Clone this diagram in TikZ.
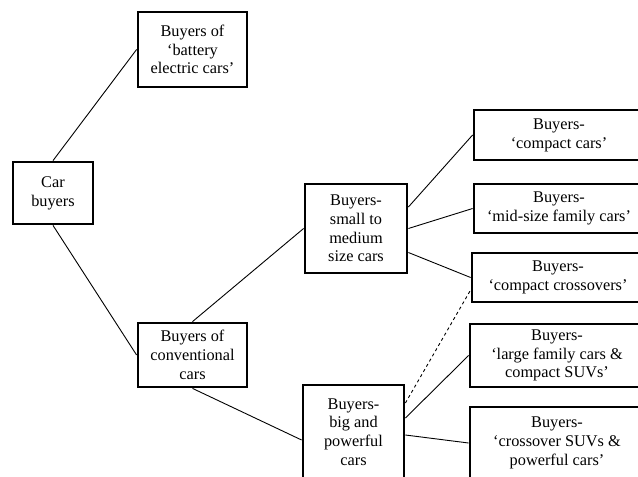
\documentclass[tikz,border=0pt]{standalone}
\usepackage{fontspec}
\setmainfont{Liberation Serif}
\usepackage{tikz}

\tikzset{
  box/.style={draw, line width=2.8pt, align=center, inner sep=0pt,
    font=\fontsize{16.3}{18.8}\selectfont},
  link/.style={line width=0.9pt}
}

\begin{document}
\begin{tikzpicture}[x=1pt,y=-1pt]
\path[use as bounding box, clip] (0,0) rectangle (638,477);

\node[box, minimum width=80pt, minimum height=62pt] (buyers) at (53,193) {Car\\buyers};
\node[box, minimum width=109pt, minimum height=75pt] (bev) at (192.5,49.5) {Buyers of\\`battery\\electric cars'};
\node[box, minimum width=109pt, minimum height=64pt] (conv) at (192.5,355) {Buyers of\\conventional\\cars};
\node[box, minimum width=102pt, minimum height=89pt] (small) at (356,228.5) {Buyers-\\small to\\medium\\size cars};
\node[box, minimum width=101pt, minimum height=94pt] (big) at (353.5,432) {Buyers-\\big and\\powerful\\cars};

\node[box, minimum width=170pt, minimum height=50pt] (compact) at (559,135) {Buyers-\\`compact cars'};
\node[box, minimum width=170pt, minimum height=49pt] (midsize) at (559,208.5) {Buyers-\\`mid-size family cars'};
\node[box, minimum width=172pt, minimum height=49pt] (crossover) at (558,277.5) {Buyers-\\`compact crossovers'};
\node[box, minimum width=174pt, minimum height=63pt] (large) at (557,355.5) {Buyers-\\`large family cars \&\\compact SUVs'};
\node[box, minimum width=174pt, minimum height=72pt] (suv) at (557,443) {Buyers-\\`crossover SUVs \&\\powerful cars'};

\draw[link] (buyers.north) -- (bev.west);
\draw[link] (buyers.south) -- (conv.west);
\draw[link] (conv.north) -- (small.west);
\draw[link] (conv.south) -- ([yshift=-8pt]big.west);

\draw[link] ([yshift=21.5pt]small.east) -- (compact.west);
\draw[link] (small.east) -- (midsize.west);
\draw[link] ([yshift=-24pt]small.east) -- (crossover.west);

\draw[link, dashed] ([yshift=29pt]big.east) -- ([yshift=-12.5pt]crossover.west);
\draw[link] ([yshift=14pt]big.east) -- (large.west);
\draw[link] ([yshift=-3pt]big.east) -- (suv.west);
\end{tikzpicture}
\end{document}
